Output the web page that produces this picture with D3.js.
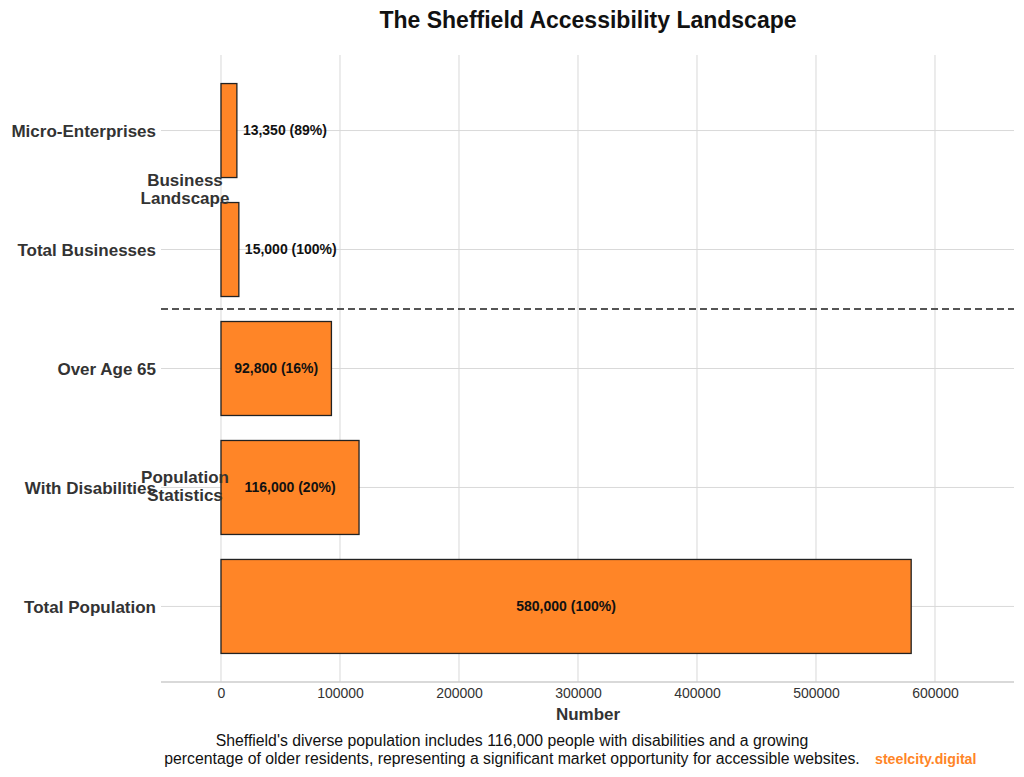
<!DOCTYPE html>
<html><head><meta charset="utf-8">
<script src="https://cdn.jsdelivr.net/npm/d3@7"></script>
<style>body{margin:0;background:#fff;} svg{display:block;font-family:"Liberation Sans",Arial,sans-serif;}</style>
</head><body>
<svg id="c" width="1024" height="777"></svg>
<script>
const categories = ["Micro-Enterprises","Total Businesses","Over Age 65","With Disabilities","Total Population"];
const values = [13350, 15000, 92800, 116000, 580000];
const percents = [89, 100, 16, 20, 100];
const groups = [
  {name:["Business","Landscape"], members:["Micro-Enterprises","Total Businesses"]},
  {name:["Population","Statistics"], members:["Over Age 65","With Disabilities","Total Population"]}
];
const xTicks = [0,100000,200000,300000,400000,500000,600000];
const title = "The Sheffield Accessibility Landscape";
const xTitle = "Number";
const caption = ["Sheffield's diverse population includes 116,000 people with disabilities and a growing",
                 "percentage of older residents, representing a significant market opportunity for accessible websites."];
const brand = "steelcity.digital";

const svg = d3.select("#c");
const L=161, R=1014, T=55, B=682;
const x = d3.scaleLinear().domain([-50420, 666400]).range([L,R]);
const y = d3.scaleBand().domain(categories).range([T,B]).paddingInner(0.21).paddingOuter(0.24);
const cy = c => y(c)+y.bandwidth()/2;

// vertical gridlines
svg.append("g").selectAll("line").data(xTicks).join("line")
  .attr("x1",d=>x(d)).attr("x2",d=>x(d)).attr("y1",T).attr("y2",B)
  .attr("stroke","#d9d9d9").attr("stroke-width",1);
// horizontal gridlines
svg.append("g").selectAll("line").data(categories).join("line")
  .attr("x1",L).attr("x2",R).attr("y1",d=>cy(d)).attr("y2",d=>cy(d))
  .attr("stroke","#d9d9d9").attr("stroke-width",1);

// bottom axis
const xa = svg.append("g").attr("transform",`translate(0,${B})`)
  .call(d3.axisBottom(x).tickValues(xTicks).tickFormat(d3.format("d")).tickSize(0).tickPadding(6));
xa.select(".domain").attr("stroke","#cccccc").attr("stroke-width",1.5).attr("d",`M${L},0H${R}`);
xa.selectAll("text").attr("font-size",14).attr("fill","#333").attr("font-family","Liberation Sans, Arial, sans-serif");

// bars
const data = categories.map((c,i)=>({c, v:values[i], p:percents[i]}));
svg.append("g").selectAll("rect").data(data).join("rect")
  .attr("x",x(0)).attr("y",d=>y(d.c)).attr("width",d=>x(d.v)-x(0)).attr("height",y.bandwidth())
  .attr("fill","#FF8527").attr("stroke","#222").attr("stroke-width",1.3);

// bar labels
const fmt = d3.format(",");
svg.append("g").selectAll("text").data(data).join("text")
  .attr("x",d=> d.v<50000 ? x(d.v)+6 : (x(0)+x(d.v))/2)
  .attr("y",d=>cy(d.c)).attr("dy","0.35em")
  .attr("text-anchor",d=> d.v<50000 ? "start":"middle")
  .attr("font-size",14).attr("font-weight","bold").attr("fill","#111")
  .text(d=>`${fmt(d.v)} (${d.p}%)`);

// y category labels
svg.append("g").selectAll("text").data(categories).join("text")
  .attr("x",156).attr("y",d=>cy(d)+0.5).attr("dy","0.35em").attr("text-anchor","end")
  .attr("font-size",17).attr("font-weight","bold").attr("fill","#333").text(d=>d);

// divider between groups
const divY = (cy(groups[0].members[groups[0].members.length-1]) + cy(groups[1].members[0]))/2;
svg.append("line").attr("x1",L).attr("x2",R).attr("y1",divY).attr("y2",divY)
  .attr("stroke","#555").attr("stroke-width",2).attr("stroke-dasharray","7,4");

// group labels
groups.forEach(g=>{
  const m = d3.mean(g.members, cy);
  const t = svg.append("text").attr("x",185).attr("y",m-9).attr("text-anchor","middle")
    .attr("font-size",17).attr("font-weight","bold").attr("fill","#333");
  g.name.forEach((s,i)=>t.append("tspan").attr("x",185).attr("dy",i?18:0).attr("dominant-baseline","middle").text(s));
});

// titles
svg.append("text").attr("x",588).attr("y",28).attr("text-anchor","middle")
  .attr("font-size",23).attr("font-weight","bold").attr("fill","#111").text(title);
svg.append("text").attr("x",588).attr("y",720).attr("text-anchor","middle")
  .attr("font-size",17).attr("font-weight","bold").attr("fill","#333").text(xTitle);
caption.forEach((s,i)=>svg.append("text").attr("x",512).attr("y",746+i*18).attr("text-anchor","middle")
  .attr("font-size",15.8).attr("fill","#111").text(s));
svg.append("text").attr("x",875).attr("y",764).attr("font-size",14.2).attr("font-weight","bold")
  .attr("fill","#FF8527").text(brand);
</script>
</body></html>
